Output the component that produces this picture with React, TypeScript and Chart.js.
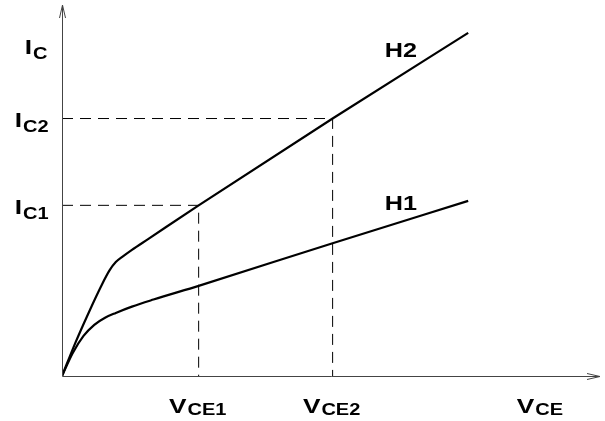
import React, { useEffect, useRef } from "react";
import { Chart, registerables } from "chart.js";

Chart.register(...registerables);

// Characteristic curves (V_CE, I_C) in arbitrary units
const h2X = [0, 0.25, 0.5, 0.72, 0.88, 1.0, 1.12, 1.3, 1.6, 2.54, 5.03, 7.55];
const h2Y = [0, 0.9, 1.72, 2.4, 2.84, 3.07, 3.21, 3.4, 3.69, 4.6, 6.94, 9.25];
const h1X = [0, 0.2, 0.4, 0.6, 0.8, 1.0, 1.3, 1.7, 2.54, 5.03, 7.55];
const h1Y = [0, 0.62, 1.08, 1.38, 1.57, 1.7, 1.87, 2.06, 2.43, 3.58, 4.72];

// Operating points
const vceMarks = [2.54, 5.03];
const icMarks = [4.6, 6.94];
const vceLabels = ["1", "2"];
const icLabels = ["1", "2"];
const curveNames = ["H2", "H1"];
const curveLabelPos = [
  [6.0, 8.6],
  [6.0, 4.47],
];

const FAMILY = "'Liberation Sans', Arial, sans-serif";
const STRETCH = 1.25;

function drawSub(
  ctx: CanvasRenderingContext2D,
  main: string,
  sub: string,
  x: number,
  y: number,
  align: "left" | "right" | "center",
  subDrop: number
) {
  const mainFont = `bold 21px ${FAMILY}`;
  const subFont = `bold 16px ${FAMILY}`;
  ctx.font = mainFont;
  const mw = ctx.measureText(main).width * STRETCH;
  ctx.font = subFont;
  const sw = ctx.measureText(sub).width * STRETCH;
  const gap = 1;
  const total = mw + gap + sw;
  let left = x;
  if (align === "right") left = x - total;
  else if (align === "center") left = x - total / 2;
  ctx.save();
  ctx.textAlign = "left";
  ctx.textBaseline = "alphabetic";
  ctx.fillStyle = "#000";
  ctx.translate(left, y);
  ctx.scale(STRETCH, 1);
  ctx.font = mainFont;
  ctx.fillText(main, 0, 0);
  ctx.font = subFont;
  ctx.fillText(sub, (mw + gap) / STRETCH, subDrop);
  ctx.restore();
}

const decorPlugin = {
  id: "decor",
  afterDraw(chart: any) {
    const { ctx, chartArea, scales } = chart;
    const xs = scales.x;
    const ys = scales.y;
    const x0 = Math.round(chartArea.left) + 0.5;
    const y0 = Math.round(chartArea.bottom) + 0.5;
    ctx.save();
    // axes
    ctx.strokeStyle = "#444";
    ctx.lineWidth = 1;
    ctx.beginPath();
    ctx.moveTo(x0, y0);
    ctx.lineTo(x0, chartArea.top);
    ctx.moveTo(x0, y0);
    ctx.lineTo(chartArea.right, y0);
    ctx.stroke();
    // arrows
    ctx.beginPath();
    ctx.moveTo(x0 - 3, chartArea.top + 13);
    ctx.lineTo(x0, chartArea.top);
    ctx.lineTo(x0 + 3, chartArea.top + 13);
    ctx.moveTo(chartArea.right - 13, y0 - 3);
    ctx.lineTo(chartArea.right, y0);
    ctx.lineTo(chartArea.right - 13, y0 + 3);
    ctx.stroke();

    // y labels
    icMarks.forEach((v, i) => {
      const py = ys.getPixelForValue(v);
      drawSub(ctx, "I", "C" + icLabels[i], x0 - 14, py + 8.5, "right", 5);
    });
    drawSub(ctx, "I", "C", x0 - 15, chartArea.top + 49, "right", 5);
    // x labels
    vceMarks.forEach((v, i) => {
      const px = xs.getPixelForValue(v);
      drawSub(ctx, "V", "CE" + vceLabels[i], px - 1, y0 + 36, "center", 2);
    });
    drawSub(ctx, "V", "CE", chartArea.right - 60, y0 + 36, "center", 2);
    // curve labels
    ctx.font = `bold 21px ${FAMILY}`;
    ctx.fillStyle = "#000";
    ctx.textAlign = "left";
    ctx.textBaseline = "alphabetic";
    curveNames.forEach((n, i) => {
      ctx.save();
      ctx.translate(
        xs.getPixelForValue(curveLabelPos[i][0]),
        ys.getPixelForValue(curveLabelPos[i][1])
      );
      ctx.scale(1.2, 1);
      ctx.fillText(n, 0, 0);
      ctx.restore();
    });
    ctx.restore();
  },
};

export default function App() {
  const ref = useRef<HTMLCanvasElement | null>(null);
  useEffect(() => {
    if (!ref.current) return;
    const pts = (xs: number[], ys: number[]) => xs.map((x, i) => ({ x, y: ys[i] }));
    const dashed = (i: number) => ({
      data: [
        { x: 0, y: icMarks[i] },
        { x: vceMarks[i], y: icMarks[i] },
        { x: vceMarks[i], y: 0 },
      ],
      showLine: true,
      borderColor: "#000",
      borderWidth: 1,
      borderDash: [11, 7],
      pointRadius: 0,
      tension: 0,
      fill: false,
    });
    const chart = new Chart(ref.current, {
      type: "scatter",
      data: {
        datasets: [
          {
            label: "H2",
            data: pts(h2X, h2Y),
            showLine: true,
            borderColor: "#000",
            borderWidth: 2.2,
            pointRadius: 0,
            cubicInterpolationMode: "monotone",
          },
          {
            label: "H1",
            data: pts(h1X, h1Y),
            showLine: true,
            borderColor: "#000",
            borderWidth: 2.2,
            pointRadius: 0,
            cubicInterpolationMode: "monotone",
          },
          { ...dashed(0), label: "d1" },
          { ...dashed(1), label: "d2" },
        ] as any,
      },
      options: {
        animation: false,
        responsive: true,
        maintainAspectRatio: false,
        layout: { padding: { left: 62, right: 5, top: 5, bottom: 45 } },
        plugins: { legend: { display: false }, tooltip: { enabled: false } },
        scales: {
          x: { type: "linear", min: 0, max: 10, display: false },
          y: { type: "linear", min: 0, max: 10, display: false },
        },
      },
      plugins: [decorPlugin],
    });
    return () => chart.destroy();
  }, []);
  return (
    <div style={{ position: "absolute", left: 0, top: 0, width: 605, height: 421, background: "#fff" }}>
      <canvas ref={ref} />
    </div>
  );
}
